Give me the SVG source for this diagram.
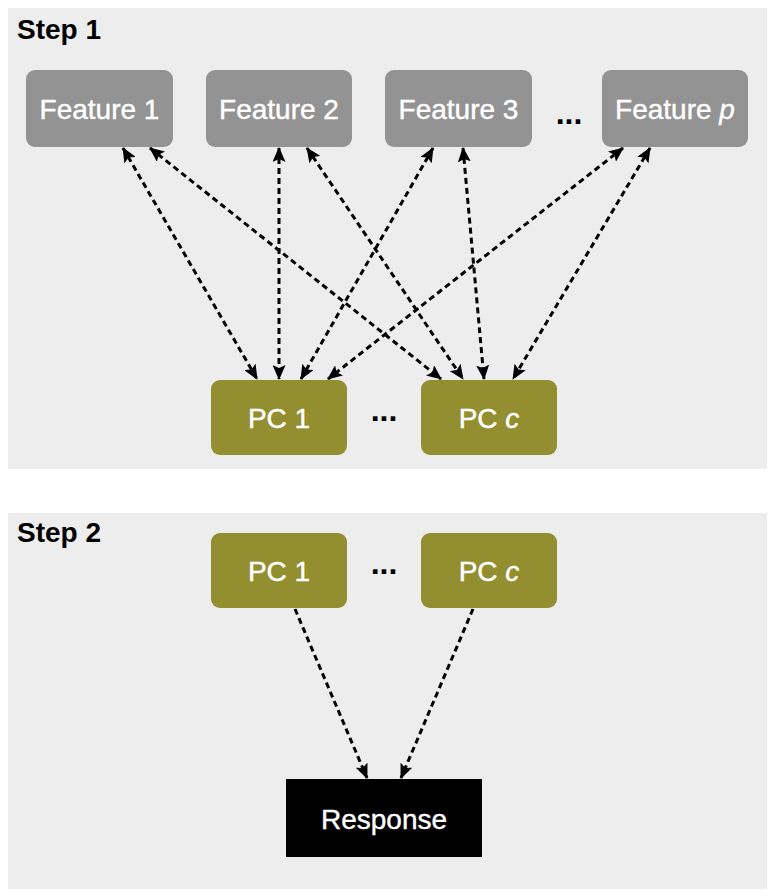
<svg xmlns="http://www.w3.org/2000/svg" width="773" height="896" viewBox="0 0 773 896">
  <style>
    .panel { fill: #ededed; }
    .feat { fill: #939393; }
    .pc { fill: #938f30; }
    .resp { fill: #000000; }
    .lbl { font-family: "Liberation Sans", Arial, sans-serif; font-size: 28px; fill: #ffffff; stroke: #ffffff; stroke-width: 0.4; text-anchor: middle; }
    .step { font-family: "Liberation Sans", Arial, sans-serif; font-size: 28px; font-weight: bold; fill: #000000; }
    .dots { font-family: "Liberation Sans", Arial, sans-serif; font-size: 32px; font-weight: bold; fill: #000000; text-anchor: middle; }
    .conn { stroke: #000000; stroke-width: 3; stroke-dasharray: 6 4; fill: none; }
    .bi { marker-start: url(#ah); marker-end: url(#ah); }
    .uni { marker-end: url(#ah); }
  </style>
  <defs>
    <marker id="ah" markerUnits="userSpaceOnUse" markerWidth="15" markerHeight="13" viewBox="0 0 15 13" refX="14" refY="6.5" orient="auto-start-reverse">
      <path d="M0,0 L15,6.5 L0,13 L3,6.5 z" fill="#000000"/>
    </marker>
  </defs>

  <rect class="panel" x="8" y="8" width="759" height="461"/>
  <rect class="panel" x="8" y="513" width="759" height="376"/>
  <text class="step" x="17" y="39">Step 1</text>
  <text class="step" x="17" y="542">Step 2</text>

  <g id="connectors">
    <line class="conn bi" x1="123" y1="148" x2="257" y2="379"/>
    <line class="conn bi" x1="150" y1="148" x2="441" y2="379"/>
    <line class="conn bi" x1="279" y1="148" x2="279" y2="379"/>
    <line class="conn bi" x1="307" y1="148" x2="463" y2="379"/>
    <line class="conn bi" x1="433" y1="148" x2="301" y2="379"/>
    <line class="conn bi" x1="463" y1="148" x2="484" y2="379"/>
    <line class="conn bi" x1="623" y1="148" x2="328" y2="379"/>
    <line class="conn bi" x1="650" y1="148" x2="513" y2="379"/>
    <line class="conn uni" x1="295" y1="609" x2="367" y2="778"/>
    <line class="conn uni" x1="473" y1="609" x2="401" y2="778"/>
  </g>

  <g id="feature1">
    <rect class="feat" x="26" y="70" width="147" height="77" rx="9"/>
    <text class="lbl" x="99.5" y="119">Feature 1</text>
  </g>
  <g id="feature2">
    <rect class="feat" x="206" y="70" width="146" height="77" rx="9"/>
    <text class="lbl" x="279" y="119">Feature 2</text>
  </g>
  <g id="feature3">
    <rect class="feat" x="385" y="70" width="147" height="77" rx="9"/>
    <text class="lbl" x="458.5" y="119">Feature 3</text>
  </g>
  <text class="dots" x="569" y="124">...</text>
  <g id="featurep">
    <rect class="feat" x="602" y="70" width="146" height="77" rx="9"/>
    <text class="lbl" x="675" y="119">Feature <tspan font-style="italic">p</tspan></text>
  </g>

  <g id="pc1-step1">
    <rect class="pc" x="211" y="380" width="136" height="75" rx="9"/>
    <text class="lbl" x="279" y="428">PC 1</text>
  </g>
  <text class="dots" x="384" y="421">...</text>
  <g id="pcc-step1">
    <rect class="pc" x="421" y="380" width="136" height="75" rx="9"/>
    <text class="lbl" x="489" y="428">PC <tspan font-style="italic">c</tspan></text>
  </g>

  <g id="pc1-step2">
    <rect class="pc" x="211" y="533" width="136" height="75" rx="9"/>
    <text class="lbl" x="279" y="581">PC 1</text>
  </g>
  <text class="dots" x="384" y="574">...</text>
  <g id="pcc-step2">
    <rect class="pc" x="421" y="533" width="136" height="75" rx="9"/>
    <text class="lbl" x="489" y="581">PC <tspan font-style="italic">c</tspan></text>
  </g>

  <g id="response">
    <rect class="resp" x="286" y="779" width="196" height="78"/>
    <text class="lbl" x="384" y="829">Response</text>
  </g>
</svg>
